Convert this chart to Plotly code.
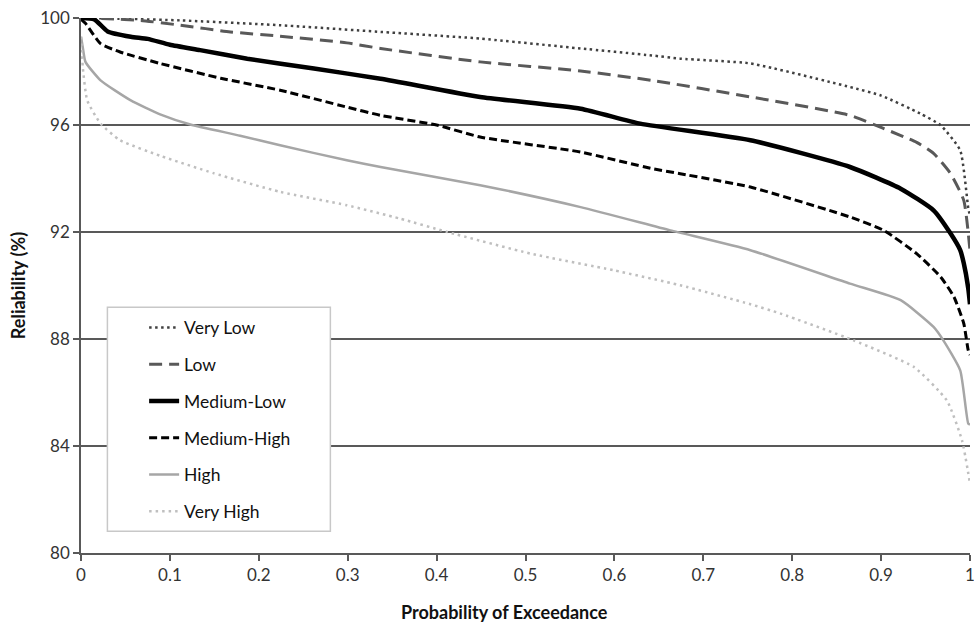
import plotly.graph_objects as go

# ---- data ----
names = ["Very Low", "Low", "Medium-Low", "Medium-High", "High", "Very High"]

vl_x = [0, 0.05, 0.112, 0.224, 0.337, 0.449, 0.562, 0.642, 0.674, 0.753, 0.865, 0.90, 0.944, 0.967, 0.989, 0.998, 1.0]
vl_y = [100, 99.97, 99.91, 99.73, 99.48, 99.23, 98.86, 98.6, 98.48, 98.3, 97.42, 97.1, 96.43, 95.99, 95.05, 92.9, 92.6]

lo_x = [0, 0.03, 0.067, 0.112, 0.168, 0.224, 0.299, 0.337, 0.449, 0.562, 0.642, 0.753, 0.865, 0.902, 0.94, 0.959, 0.978, 0.993, 1.0]
lo_y = [100, 99.97, 99.91, 99.73, 99.48, 99.32, 99.07, 98.86, 98.36, 98.02, 97.67, 97.05, 96.36, 95.88, 95.35, 94.94, 94.19, 93.18, 91.3]

ml_x = [0, 0.015, 0.03, 0.056, 0.075, 0.1, 0.134, 0.187, 0.262, 0.337, 0.449, 0.562, 0.629, 0.753, 0.865, 0.922, 0.959, 0.978, 0.989, 0.993, 0.998, 1.0]
ml_y = [100, 99.95, 99.5, 99.3, 99.22, 99.0, 98.8, 98.48, 98.11, 97.73, 97.05, 96.61, 96.05, 95.43, 94.43, 93.62, 92.81, 91.95, 91.32, 90.83, 89.9, 89.3]

mh_x = [0, 0.005, 0.022, 0.044, 0.089, 0.157, 0.224, 0.299, 0.337, 0.40, 0.449, 0.562, 0.642, 0.674, 0.753, 0.865, 0.903, 0.94, 0.967, 0.982, 0.993, 0.998, 1.0]
mh_y = [99.95, 99.8, 99.04, 98.73, 98.3, 97.75, 97.3, 96.67, 96.36, 96.0, 95.55, 94.99, 94.37, 94.18, 93.68, 92.56, 92.06, 91.19, 90.32, 89.57, 88.58, 87.58, 87.4]

hi_x = [0, 0.002, 0.005, 0.022, 0.056, 0.089, 0.123, 0.179, 0.224, 0.299, 0.337, 0.449, 0.562, 0.663, 0.753, 0.865, 0.922, 0.959, 0.970, 0.989, 0.998, 1.0]
hi_y = [99.3, 98.9, 98.36, 97.67, 96.92, 96.4, 96.02, 95.6, 95.24, 94.68, 94.43, 93.75, 92.93, 92.06, 91.32, 90.07, 89.45, 88.45, 87.95, 86.83, 84.84, 84.8]

vh_x = [0, 0.002, 0.007, 0.022, 0.044, 0.089, 0.149, 0.224, 0.299, 0.359, 0.412, 0.506, 0.599, 0.674, 0.753, 0.787, 0.869, 0.937, 0.974, 0.991, 1.0]
vh_y = [99.3, 98.17, 96.92, 96.05, 95.43, 94.85, 94.2, 93.5, 93.0, 92.5, 92.0, 91.19, 90.57, 90.01, 89.3, 88.95, 87.95, 86.95, 85.7, 84.21, 82.6]

x_ticks = [0, 0.1, 0.2, 0.3, 0.4, 0.5, 0.6, 0.7, 0.8, 0.9, 1]
y_ticks = [80, 84, 88, 92, 96, 100]

# ---- styles ----
styles = [
    dict(color="#404040", width=2.5, dash="2.5px,3.5px"),
    dict(color="#595959", width=3, dash="13px,7px"),
    dict(color="#000000", width=4.5, dash="solid"),
    dict(color="#000000", width=3, dash="8px,4px"),
    dict(color="#a6a6a6", width=2.5, dash="solid"),
    dict(color="#bfbfbf", width=2.5, dash="2.5px,4px"),
]
series = [(vl_x, vl_y), (lo_x, lo_y), (ml_x, ml_y), (mh_x, mh_y), (hi_x, hi_y), (vh_x, vh_y)]

FONT = "Lato"
fig = go.Figure()
for i, (name, (xs, ys), st) in enumerate(zip(names, series, styles)):
    fig.add_trace(go.Scatter(x=xs, y=ys, mode="lines", name=name,
                             line=dict(**st, shape="spline", smoothing=0.5),
                             legendgroup=f"g{i}", hoverinfo="skip"))

GRID = "#595959"
fig.update_layout(
    width=974, height=622,
    margin=dict(l=81, r=4, t=18, b=69),
    paper_bgcolor="white", plot_bgcolor="white",
    font=dict(family=FONT, color="#222222", size=17),
    showlegend=True,
    legend=dict(x=0.071, y=0.455, xanchor="left", yanchor="top",
                bgcolor="rgba(0,0,0,0)", borderwidth=0,
                font=dict(family=FONT, size=17.5, color="#111111"),
                tracegroupgap=11, itemwidth=30, traceorder="grouped"),
    xaxis=dict(range=[0, 1], tickvals=x_ticks, ticktext=[str(v) for v in x_ticks],
               showgrid=False, zeroline=False, showline=True, linecolor=GRID, linewidth=1.5,
               ticks="outside", ticklen=6, tickcolor=GRID, tickwidth=1.5,
               ticklabeloverflow="allow", automargin=False,
               tickfont=dict(family=FONT, size=17, color="#333333")),
    yaxis=dict(range=[80, 100], tickvals=y_ticks,
               showgrid=True, gridcolor=GRID, gridwidth=1.5, zeroline=False,
               showline=True, linecolor=GRID, linewidth=1.5,
               ticks="outside", ticklen=6, tickcolor=GRID, tickwidth=1.5,
               automargin=False,
               tickfont=dict(family=FONT, size=17, color="#333333"),
               title=dict(text="<b>Reliability (%)</b>", font=dict(family=FONT, size=18, color="#111111"),
                          standoff=10)),
    shapes=[dict(type="rect", xref="paper", yref="paper",
                 x0=0.0297, x1=0.2805, y0=0.0406, y1=0.4593,
                 fillcolor="white", line=dict(color="#c8c8c8", width=1.5), layer="above")],
    annotations=[dict(text="<b>Probability of Exceedance</b>", xref="paper", yref="paper",
                      x=0.476, y=-0.111, xanchor="center", yanchor="middle", showarrow=False,
                      font=dict(family=FONT, size=18, color="#111111"))],
)

fig.write_html("out.html")
